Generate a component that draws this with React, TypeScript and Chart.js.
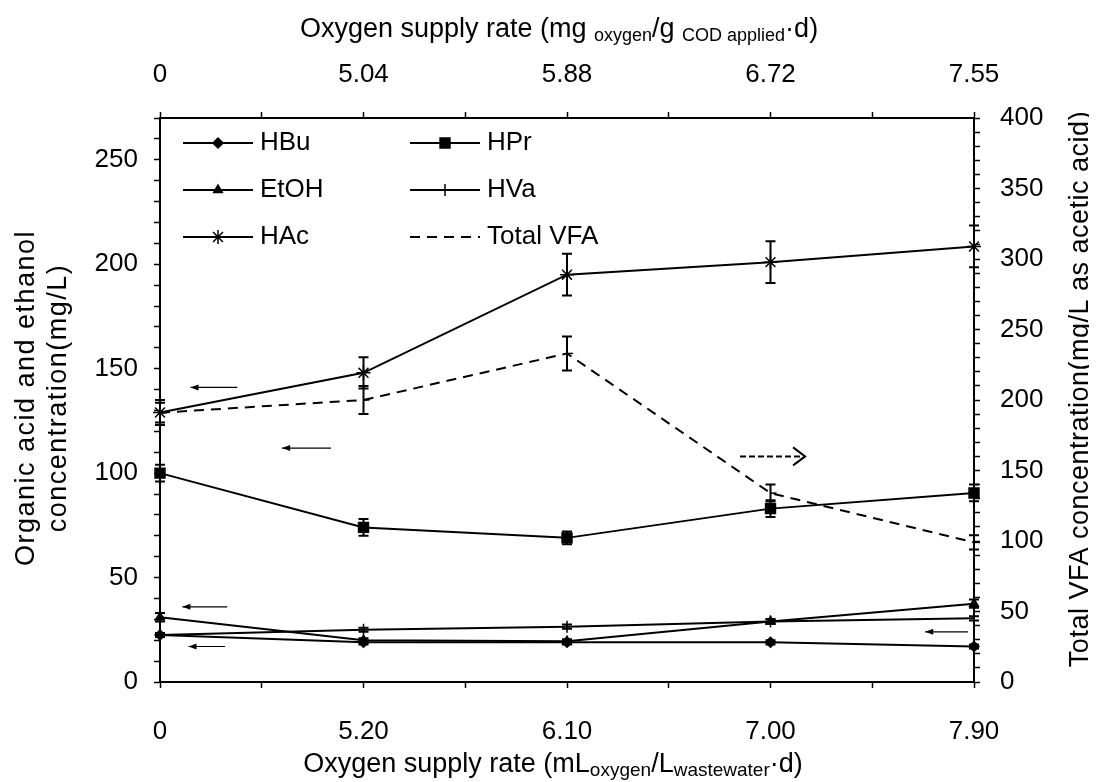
import React, { useEffect, useRef } from "react";
import { Chart, registerables } from "chart.js";
import { drawPoint } from "chart.js/helpers";
Chart.register(...registerables);

// ---- data ----
const bottomLabels = ["0", "5.20", "6.10", "7.00", "7.90"];
const topLabels = ["0", "5.04", "5.88", "6.72", "7.55"];
const xIndex = [0, 1, 2, 3, 4];

const hbu = [22.5, 19, 19, 19, 17];
const hbuErr = [1, 1, 1, 1, 1];
const hpr = [100, 74, 69, 83, 90.5];
const hprErr = [4, 4, 3, 4, 4];
const etoh = [31, 20, 19.5, 29, 37.5];
const etohErr = [2, 1, 1, 1, 2];
const hva = [22.5, 25, 26.5, 29, 30.5];
const hvaErr = [1, 1, 1, 1, 1];
const hac = [129, 148, 195, 201, 208.5];
const hacErr = [6, 7.5, 10, 10, 10];
const totalVfa = [191, 200, 233, 134, 99];
const totalVfaErr = [7, 10, 12, 6, 5];

// annotation arrows (x from, x to, left-axis value, dashed)
const arrowFrom = [0.38, 0.84, 0.33, 0.32, 2.85, 3.97];
const arrowTo = [0.15, 0.6, 0.11, 0.14, 3.17, 3.76];
const arrowAt = [141, 112, 36, 17, 108, 24];
const arrowDashed = [false, false, false, false, true, false];

const FONT = "'Liberation Sans', Arial, sans-serif";

export default function App() {
  const ref = useRef<HTMLCanvasElement>(null);
  useEffect(() => {
    const ctx = ref.current!.getContext("2d")!;
    const mk = (label: string, data: number[], err: number[], style: string, radius: number, axis = "y", dash: number[] = [], rotation = 0) => ({
      label,
      data: xIndex.map((x, i) => ({ x, y: data[i] })),
      err,
      yAxisID: axis,
      borderColor: "#000",
      backgroundColor: "#000",
      borderWidth: 2,
      borderDash: dash,
      pointStyle: style,
      pointRadius: radius,
      pointRotation: rotation,
      pointBorderWidth: 1.5,
      pointBackgroundColor: "#000",
      pointBorderColor: "#000",
      showLine: true,
      fill: false,
      tension: 0,
      clip: false,
    });
    const datasets: any[] = [
      mk("HBu", hbu, hbuErr, "rectRot", 5),
      mk("HPr", hpr, hprErr, "rect", 7),
      mk("EtOH", etoh, etohErr, "triangle", 5),
      mk("HVa", hva, hvaErr, "line", 6, "y", [], 90),
      mk("HAc", hac, hacErr, "star", 7),
      mk("Total VFA", totalVfa, totalVfaErr, "dash", 6, "y2", [10, 7]),
    ];

    const halfTicks = (scale: any) => {
      const t = [];
      for (let v = 0; v <= 4; v += 0.5) t.push({ value: v });
      scale.ticks = t;
    };
    const gridOpts = { drawOnChartArea: false, drawTicks: true, tickLength: 6, tickColor: "#000", tickWidth: 1.5 };
    const border = { display: true, color: "#000", width: 2 };
    const tickFont = { family: FONT, size: 26 };

    const errorBars = {
      id: "errorBars",
      afterDatasetsDraw(chart: any) {
        const c = chart.ctx;
        c.save();
        c.strokeStyle = "#000";
        c.lineWidth = 2;
        chart.data.datasets.forEach((ds: any, di: number) => {
          const meta = chart.getDatasetMeta(di);
          const ys = chart.scales[ds.yAxisID];
          meta.data.forEach((pt: any, i: number) => {
            const v = ds.data[i].y;
            const e = ds.err[i];
            const y1 = ys.getPixelForValue(v + e);
            const y2 = ys.getPixelForValue(v - e);
            c.beginPath();
            c.moveTo(pt.x, y1);
            c.lineTo(pt.x, y2);
            c.moveTo(pt.x - 5, y1);
            c.lineTo(pt.x + 5, y1);
            c.moveTo(pt.x - 5, y2);
            c.lineTo(pt.x + 5, y2);
            c.stroke();
          });
        });
        c.restore();
      },
    };

    const drawRich = (c: any, segs: { t: string; sub?: boolean }[], cx: number, y: number, size: number, subSize: number) => {
      const w = segs.reduce((s, g) => {
        c.font = `${g.sub ? subSize : size}px ${FONT}`;
        return s + c.measureText(g.t).width;
      }, 0);
      let x = cx - w / 2;
      segs.forEach((g) => {
        c.font = `${g.sub ? subSize : size}px ${FONT}`;
        c.fillText(g.t, x, g.sub ? y + 6 : y);
        x += c.measureText(g.t).width;
      });
    };

    const decor = {
      id: "decor",
      afterDraw(chart: any) {
        const c = chart.ctx;
        const a = chart.chartArea;
        const xs = chart.scales.x;
        const ys = chart.scales.y;
        c.save();
        c.fillStyle = "#000";
        c.strokeStyle = "#000";
        c.textBaseline = "middle";
        c.textAlign = "left";
        // titles
        drawRich(c, [
          { t: "Oxygen supply rate (mg " },
          { t: "oxygen", sub: true },
          { t: "/g " },
          { t: "COD applied", sub: true },
          { t: "·d)" },
        ], 551, 22, 27, 18);
        drawRich(c, [
          { t: "Oxygen supply rate (mL" },
          { t: "oxygen", sub: true },
          { t: "/L" },
          { t: "wastewater", sub: true },
          { t: "·d)" },
        ], 545, 757, 27, 19);
        c.textAlign = "center";
        c.font = `27px ${FONT}`;
        c.save();
        (c as any).letterSpacing = "1.5px";
        c.translate(19, 390);
        c.rotate(-Math.PI / 2);
        c.fillText("Organic acid and ethanol", 0, 0);
        c.fillText("concentration(mg/L)", 0, 32);
        c.restore();
        c.save();
        (c as any).letterSpacing = "0.5px";
        c.translate(1073, 381);
        c.rotate(-Math.PI / 2);
        c.fillText("Total VFA concentration(mg/L as acetic acid)", 0, 0);
        c.restore();

        // legend
        const rows = [a.top + 25, a.top + 72, a.top + 119];
        const cols = [a.left + 23, a.left + 250];
        chart.data.datasets.forEach((ds: any, i: number) => {
          const col = i % 2;
          const row = Math.floor(i / 2);
          const x0 = cols[col];
          const y0 = rows[row];
          c.save();
          c.lineWidth = 2;
          c.setLineDash(ds.borderDash || []);
          c.beginPath();
          c.moveTo(x0, y0);
          c.lineTo(x0 + 70, y0);
          c.stroke();
          c.setLineDash([]);
          c.lineWidth = 1.5;
          drawPoint(c, { pointStyle: ds.pointStyle, radius: ds.pointRadius, rotation: ds.pointRotation, borderWidth: 1.5 }, x0 + 35, y0);
          c.restore();
          c.font = `26px ${FONT}`;
          c.textAlign = "left";
          c.fillText(ds.label, x0 + 77, y0);
        });

        // arrows
        arrowFrom.forEach((xf, i) => {
          const px1 = xs.getPixelForValue(xf);
          const px2 = xs.getPixelForValue(arrowTo[i]);
          const py = ys.getPixelForValue(arrowAt[i]);
          const dir = Math.sign(px2 - px1);
          c.save();
          c.lineWidth = arrowDashed[i] ? 2 : 1.2;
          c.setLineDash(arrowDashed[i] ? [6, 3] : []);
          c.beginPath();
          c.moveTo(px1, py);
          c.lineTo(px2, py);
          c.stroke();
          c.setLineDash([]);
          if (arrowDashed[i]) {
            c.beginPath();
            c.moveTo(px2 - dir * 12, py - 9);
            c.lineTo(px2, py);
            c.lineTo(px2 - dir * 12, py + 9);
            c.stroke();
          } else {
            c.beginPath();
            c.moveTo(px2, py);
            c.lineTo(px2 - dir * 8, py - 3);
            c.lineTo(px2 - dir * 8, py + 3);
            c.closePath();
            c.fill();
          }
          c.restore();
        });
        c.restore();
      },
    };

    const chart = new Chart(ctx, {
      type: "line",
      data: { datasets },
      options: {
        animation: false,
        responsive: true,
        maintainAspectRatio: false,
        devicePixelRatio: 1,
        layout: { padding: 0 },
        plugins: { legend: { display: false }, tooltip: { enabled: false } },
        scales: {
          x: {
            type: "linear",
            position: "bottom",
            min: 0,
            max: 4,
            afterBuildTicks: halfTicks,
            afterFit: (s: any) => { s.height = 100; },
            grid: gridOpts,
            border,
            ticks: {
              autoSkip: false,
              maxRotation: 0,
              color: "#000",
              font: tickFont,
              padding: 28,
              callback: (v: any) => (Number.isInteger(v) ? bottomLabels[v] : ""),
            },
          },
          x2: {
            type: "linear",
            position: "top",
            min: 0,
            max: 4,
            afterBuildTicks: halfTicks,
            afterFit: (s: any) => { s.height = 110; },
            grid: gridOpts,
            border,
            ticks: {
              autoSkip: false,
              maxRotation: 0,
              color: "#000",
              font: tickFont,
              padding: 22,
              callback: (v: any) => (Number.isInteger(v) ? topLabels[v] : ""),
            },
          },
          y: {
            type: "linear",
            position: "left",
            min: 0,
            max: 270,
            afterFit: (s: any) => { s.width = 152; },
            grid: gridOpts,
            border,
            ticks: {
              stepSize: 10,
              autoSkip: false,
              color: "#000",
              font: tickFont,
              padding: 16,
              callback: (v: any) => (v % 50 === 0 ? String(v) : ""),
            },
          },
          y2: {
            type: "linear",
            position: "right",
            min: 0,
            max: 400,
            afterFit: (s: any) => { s.width = 115; },
            grid: gridOpts,
            border,
            ticks: {
              stepSize: 10,
              autoSkip: false,
              color: "#000",
              font: tickFont,
              padding: 20,
              callback: (v: any) => (v % 50 === 0 ? String(v) : ""),
            },
          },
        },
      } as any,
      plugins: [errorBars, decor],
    });
    return () => chart.destroy();
  }, []);
  return (
    <div style={{ position: "relative", width: 1081, height: 774 }}>
      <canvas ref={ref} />
    </div>
  );
}
